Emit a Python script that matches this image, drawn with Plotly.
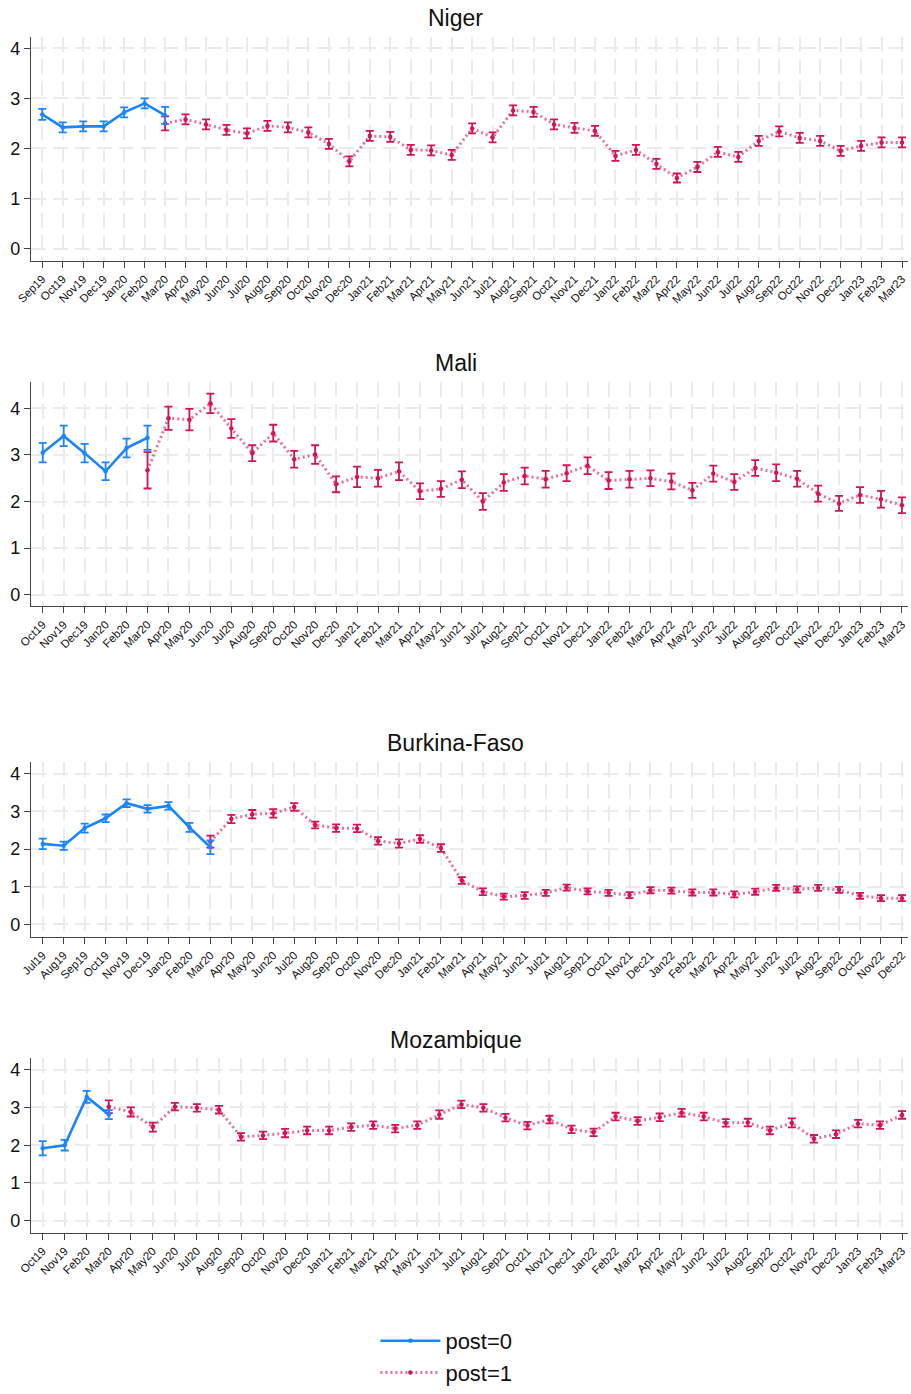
import plotly.graph_objects as go

BLUE = "#1A85FF"
RED = "#D41159"
RED_LINE = "rgba(212,17,89,0.6)"
FONT = "Liberation Sans, Arial, sans-serif"

# ---------------- Niger ----------------
niger_months = ["Sep19", "Oct19", "Nov19", "Dec19", "Jan20", "Feb20", "Mar20", "Apr20", "May20", "Jun20",
                "Jul20", "Aug20", "Sep20", "Oct20", "Nov20", "Dec20", "Jan21", "Feb21", "Mar21", "Apr21",
                "May21", "Jun21", "Jul21", "Aug21", "Sep21", "Oct21", "Nov21", "Dec21", "Jan22", "Feb22",
                "Mar22", "Apr22", "May22", "Jun22", "Jul22", "Aug22", "Sep22", "Oct22", "Nov22", "Dec22",
                "Jan23", "Feb23", "Mar23"]
niger_pre_mean = [2.68, 2.42, 2.44, 2.44, 2.72, 2.90, 2.66]
niger_pre_ci = [0.11, 0.10, 0.10, 0.10, 0.10, 0.10, 0.17]
niger_post_mean = [2.50, 2.58, 2.48, 2.37, 2.30, 2.45, 2.42, 2.32, 2.09, 1.74,
                   2.25, 2.23, 1.97, 1.96, 1.87, 2.40, 2.22, 2.76, 2.73, 2.48, 2.41, 2.35,
                   1.85, 1.97, 1.69, 1.41, 1.63, 1.93, 1.83, 2.15, 2.34, 2.21, 2.15, 1.95,
                   2.05, 2.12, 2.12]
niger_post_ci = [0.14, 0.10, 0.10, 0.10, 0.10, 0.10, 0.10, 0.10, 0.10, 0.10,
                 0.10, 0.10, 0.10, 0.10, 0.10, 0.10, 0.10, 0.10, 0.10, 0.10, 0.10, 0.10,
                 0.10, 0.10, 0.10, 0.09, 0.10, 0.10, 0.10, 0.10, 0.10, 0.10, 0.10, 0.10,
                 0.10, 0.10, 0.10]

# ---------------- Mali ----------------
mali_months = ["Oct19", "Nov19", "Dec19", "Jan20", "Feb20", "Mar20", "Apr20", "May20", "Jun20",
               "Jul20", "Aug20", "Sep20", "Oct20", "Nov20", "Dec20", "Jan21", "Feb21", "Mar21", "Apr21",
               "May21", "Jun21", "Jul21", "Aug21", "Sep21", "Oct21", "Nov21", "Dec21", "Jan22", "Feb22",
               "Mar22", "Apr22", "May22", "Jun22", "Jul22", "Aug22", "Sep22", "Oct22", "Nov22", "Dec22",
               "Jan23", "Feb23", "Mar23"]
mali_pre_mean = [3.05, 3.41, 3.04, 2.65, 3.15, 3.37]
mali_pre_ci = [0.21, 0.22, 0.20, 0.19, 0.20, 0.26]
mali_post_mean = [2.67, 3.79, 3.76, 4.11, 3.57, 3.04, 3.47, 2.91, 3.01, 2.37,
                  2.53, 2.50, 2.65, 2.22, 2.27, 2.47, 2.00, 2.41, 2.55, 2.48, 2.61, 2.77,
                  2.45, 2.48, 2.50, 2.43, 2.24, 2.60, 2.42, 2.72, 2.62, 2.49, 2.17, 1.96,
                  2.14, 2.05, 1.92]
mali_post_ci = [0.39, 0.25, 0.23, 0.21, 0.20, 0.17, 0.18, 0.18, 0.20, 0.17,
                0.22, 0.18, 0.19, 0.17, 0.17, 0.18, 0.18, 0.18, 0.18, 0.18, 0.17, 0.18,
                0.18, 0.18, 0.17, 0.17, 0.16, 0.17, 0.17, 0.17, 0.18, 0.17, 0.17, 0.16,
                0.17, 0.18, 0.17]

# ---------------- Burkina-Faso ----------------
bf_months = ["Jul19", "Aug19", "Sep19", "Oct19", "Nov19", "Dec19", "Jan20", "Feb20", "Mar20", "Apr20",
             "May20", "Jun20", "Jul20", "Aug20", "Sep20", "Oct20", "Nov20", "Dec20", "Jan21", "Feb21",
             "Mar21", "Apr21", "May21", "Jun21", "Jul21", "Aug21", "Sep21", "Oct21", "Nov21", "Dec21",
             "Jan22", "Feb22", "Mar22", "Apr22", "May22", "Jun22", "Jul22", "Aug22", "Sep22", "Oct22",
             "Nov22", "Dec22"]
bf_pre_mean = [2.14, 2.09, 2.56, 2.82, 3.22, 3.07, 3.15, 2.58, 2.05]
bf_pre_ci = [0.14, 0.11, 0.12, 0.10, 0.10, 0.10, 0.10, 0.12, 0.18]
bf_post_mean = [2.20, 2.80, 2.93, 2.95, 3.12, 2.64, 2.56, 2.55, 2.22, 2.15,
                2.27, 2.03, 1.17, 0.87, 0.74, 0.77, 0.84, 0.98, 0.88, 0.84, 0.78, 0.91,
                0.90, 0.85, 0.85, 0.80, 0.87, 0.97, 0.93, 0.97, 0.92, 0.76, 0.70, 0.70]
bf_post_ci = [0.16, 0.11, 0.11, 0.11, 0.10, 0.09, 0.10, 0.10, 0.10, 0.11,
              0.10, 0.10, 0.09, 0.09, 0.08, 0.09, 0.08, 0.08, 0.08, 0.08, 0.08, 0.08,
              0.08, 0.08, 0.08, 0.08, 0.08, 0.08, 0.08, 0.08, 0.08, 0.08, 0.08, 0.08]

# ---------------- Mozambique ----------------
moz_months = ["Oct19", "Nov19", "Feb20", "Mar20", "Apr20", "May20", "Jun20", "Jul20", "Aug20", "Sep20",
              "Oct20", "Nov20", "Dec20", "Jan21", "Feb21", "Mar21", "Apr21", "May21", "Jun21", "Jul21",
              "Aug21", "Sep21", "Oct21", "Nov21", "Dec21", "Jan22", "Feb22", "Mar22", "Apr22", "May22",
              "Jun22", "Jul22", "Aug22", "Sep22", "Oct22", "Nov22", "Dec22", "Jan23", "Feb23", "Mar23"]
moz_pre_mean = [1.92, 2.00, 3.28, 2.81]
moz_pre_ci = [0.19, 0.14, 0.16, 0.12]
moz_post_mean = [3.02, 2.88, 2.48, 3.02, 2.99, 2.94, 2.22, 2.26, 2.32, 2.39,
                 2.39, 2.48, 2.53, 2.44, 2.53, 2.81, 3.08, 2.99, 2.73, 2.52, 2.68, 2.42,
                 2.34, 2.76, 2.64, 2.74, 2.86, 2.76, 2.59, 2.60, 2.39, 2.59, 2.17, 2.29,
                 2.57, 2.53, 2.80]
moz_post_ci = [0.17, 0.12, 0.12, 0.10, 0.10, 0.10, 0.10, 0.10, 0.11, 0.10,
               0.10, 0.10, 0.10, 0.10, 0.10, 0.11, 0.10, 0.10, 0.10, 0.10, 0.10, 0.10,
               0.10, 0.10, 0.10, 0.10, 0.10, 0.10, 0.10, 0.10, 0.10, 0.12, 0.10, 0.10,
               0.10, 0.10, 0.10]

panels = [
    dict(title="Niger", months=niger_months, pre=niger_pre_mean, pre_ci=niger_pre_ci,
         post=niger_post_mean, post_ci=niger_post_ci,
         ydom=[0.8121, 0.9735], yrange=[-0.24, 4.23], xrange=[-0.55, 42.29], ty=0.987),
    dict(title="Mali", months=mali_months, pre=mali_pre_mean, pre_ci=mali_pre_ci,
         post=mali_post_mean, post_ci=mali_post_ci,
         ydom=[0.5629, 0.7243], yrange=[-0.25, 4.56], xrange=[-0.56, 41.29], ty=0.7382),
    dict(title="Burkina-Faso", months=bf_months, pre=bf_pre_mean, pre_ci=bf_pre_ci,
         post=bf_post_mean, post_ci=bf_post_ci,
         ydom=[0.3245, 0.4505], yrange=[-0.33, 4.31], xrange=[-0.56, 41.29], ty=0.4641),
    dict(title="Mozambique", months=moz_months, pre=moz_pre_mean, pre_ci=moz_pre_ci,
         post=moz_post_mean, post_ci=moz_post_ci,
         ydom=[0.1112, 0.2372], yrange=[-0.32, 4.31], xrange=[-0.53, 39.27], ty=0.2504),
]

fig = go.Figure()
xdom = [31 / 911, 908 / 911]
annotations = []

for i, p in enumerate(panels):
    n = i + 1
    xa = "x" if n == 1 else f"x{n}"
    ya = "y" if n == 1 else f"y{n}"
    npre = len(p["pre"])
    x_pre = p["months"][:npre]
    x_post = p["months"][npre - 1:]

    fig.add_trace(go.Scatter(
        x=x_post, y=p["post"], mode="lines+markers", name="post=1",
        legendgroup="post1", showlegend=(n == 1),
        line=dict(color=RED_LINE, width=3, dash="2px,3px"),
        marker=dict(color=RED, size=4.5),
        error_y=dict(type="data", array=p["post_ci"], visible=True, color=RED,
                     thickness=1.8, width=4),
        xaxis=xa, yaxis=ya))
    fig.add_trace(go.Scatter(
        x=x_pre, y=p["pre"], mode="lines+markers", name="post=0",
        legendgroup="post0", showlegend=(n == 1),
        line=dict(color=BLUE, width=2.6),
        marker=dict(color=BLUE, size=4.5),
        error_y=dict(type="data", array=p["pre_ci"], visible=True, color=BLUE,
                     thickness=1.8, width=4),
        xaxis=xa, yaxis=ya))

    axis_common = dict(
        showline=True, linecolor="#444444", linewidth=1.3,
        ticks="outside", ticklen=6, tickwidth=1.3, tickcolor="#444444",
        showgrid=True, gridcolor="#EBEBEB", gridwidth=1.6, griddash="15px,7px",
        zeroline=False, automargin=False,
    )
    fig.update_layout(**{
        ("xaxis" if n == 1 else f"xaxis{n}"): dict(
            domain=xdom, anchor=ya, type="category", range=p["xrange"],
            categoryorder="array", categoryarray=p["months"],
            tickmode="array", tickvals=p["months"], ticktext=p["months"],
            tickangle=-45, tickfont=dict(size=11.5, color="#111111", family=FONT),
            **axis_common),
        ("yaxis" if n == 1 else f"yaxis{n}"): dict(
            domain=p["ydom"], anchor=xa, range=p["yrange"],
            tickmode="array", tickvals=[0, 1, 2, 3, 4],
            tickfont=dict(size=18, color="#111111", family=FONT),
            **axis_common),
    })
    annotations.append(dict(
        text=p["title"], x=0.5, y=p["ty"], xref="paper", yref="paper",
        xanchor="center", yanchor="middle", showarrow=False,
        font=dict(size=23, color="#111111", family=FONT)))

fig.update_layout(
    width=911, height=1394,
    margin=dict(l=0, r=0, t=0, b=0),
    paper_bgcolor="white", plot_bgcolor="white",
    font=dict(family=FONT, color="#111111"),
    annotations=annotations,
    legend=dict(
        x=0.49, xanchor="center", y=0.048, yanchor="top",
        orientation="v", traceorder="reversed", tracegroupgap=14,
        font=dict(size=22, color="#111111", family=FONT),
        itemwidth=60, bgcolor="rgba(0,0,0,0)",
    ),
)

fig.write_html("out.html")
